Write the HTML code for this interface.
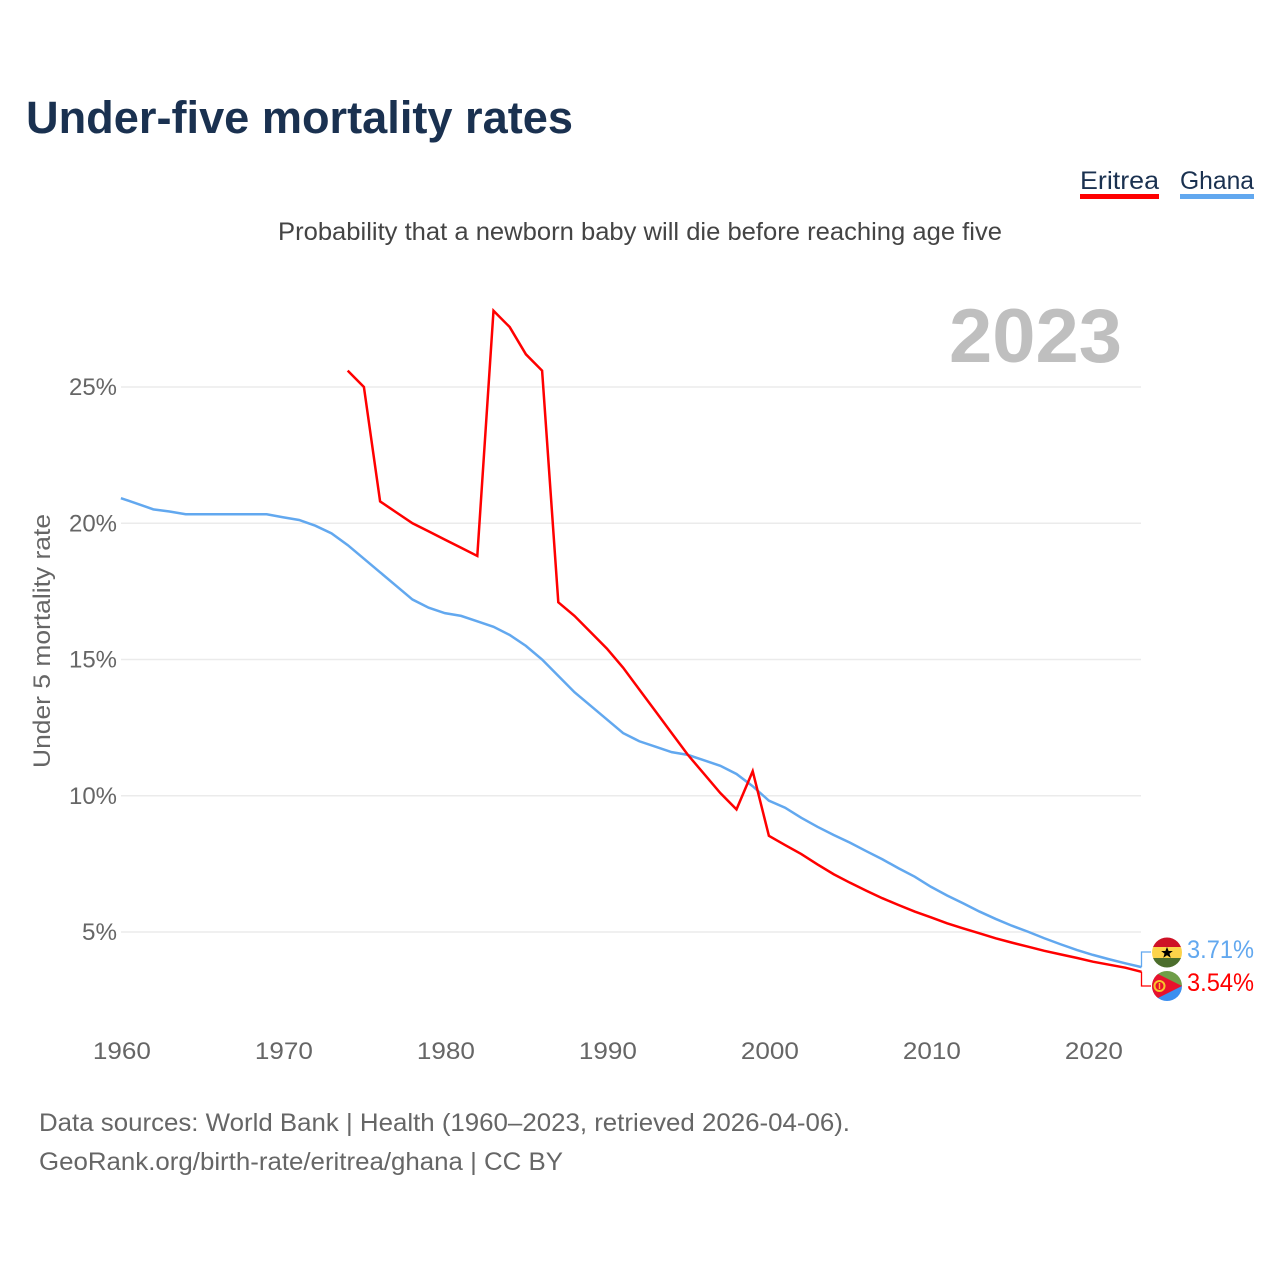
<!DOCTYPE html>
<html lang="en">
<head>
<meta charset="utf-8">
<title>Under-five mortality rates</title>
<style>
html,body{margin:0;padding:0;background:#fff;width:1280px;height:1280px;overflow:hidden}
svg{display:block}
text{font-family:"Liberation Sans",sans-serif}
</style>
</head>
<body>
<svg id="chart" xmlns="http://www.w3.org/2000/svg" width="1280" height="1280" viewBox="0 0 1280 1280">
  <defs>
    <clipPath id="ghana-clip"><circle cx="1167" cy="952.5" r="15"/></clipPath>
    <clipPath id="eritrea-clip"><circle cx="1167" cy="986" r="15"/></clipPath>
  </defs>
  <rect x="0" y="0" width="1280" height="1280" fill="#ffffff"/>
  <text x="26" y="133" font-size="45" font-weight="700" fill="#1a3150" textLength="547" lengthAdjust="spacingAndGlyphs">Under-five mortality rates</text>
  <text x="1080" y="189" font-size="25" fill="#1a3150" textLength="79" lengthAdjust="spacingAndGlyphs">Eritrea</text>
  <rect x="1080" y="194" width="79" height="5" fill="#ff0000"/>
  <text x="1180" y="189" font-size="25" fill="#1a3150" textLength="74" lengthAdjust="spacingAndGlyphs">Ghana</text>
  <rect x="1180" y="194" width="74" height="5" fill="#62a8ef"/>
  <text x="278" y="240" font-size="25" fill="#444444" textLength="724" lengthAdjust="spacingAndGlyphs">Probability that a newborn baby will die before reaching age five</text>
  <text x="949" y="362" font-size="76" font-weight="700" fill="#bfbfbf" textLength="173" lengthAdjust="spacingAndGlyphs">2023</text>
  <g id="grid"></g>
  <g id="y-ticks"></g>
  <g id="x-ticks"></g>
  <text transform="translate(50,641) rotate(-90)" text-anchor="middle" font-size="24" fill="#666666" textLength="254" lengthAdjust="spacingAndGlyphs">Under 5 mortality rate</text>
  <g id="series"></g>
  <g id="connectors"></g>
  <g clip-path="url(#ghana-clip)">
    <rect x="1152" y="937" width="30" height="10.5" fill="#ce1126"/>
    <rect x="1152" y="947" width="30" height="11" fill="#fcd34a"/>
    <rect x="1152" y="958" width="30" height="11" fill="#4c6e2c"/>
    <polygon points="1167,947 1168.6,951 1172.8,951 1169.5,953.6 1170.7,957.8 1167,955.3 1163.3,957.8 1164.5,953.6 1161.2,951 1165.4,951" fill="#000000"/>
  </g>
  <g clip-path="url(#eritrea-clip)">
    <rect x="1152" y="971" width="30" height="15" fill="#6f9e48"/>
    <rect x="1152" y="986" width="30" height="15" fill="#3b8ff0"/>
    <polygon points="1152,971 1182,986 1152,1001" fill="#e8112d"/>
    <circle cx="1159.5" cy="986" r="5" fill="none" stroke="#f7c52b" stroke-width="2"/>
    <rect x="1158.8" y="983" width="1.4" height="6" fill="#f7c52b"/>
  </g>
  <text x="1187" y="958" font-size="25" fill="#62a8ef" textLength="67" lengthAdjust="spacingAndGlyphs">3.71%</text>
  <text x="1187" y="991" font-size="25" fill="#ff0000" textLength="67" lengthAdjust="spacingAndGlyphs">3.54%</text>
  <text x="39" y="1131" font-size="25" fill="#666666" textLength="811" lengthAdjust="spacingAndGlyphs">Data sources: World Bank | Health (1960–2023, retrieved 2026-04-06).</text>
  <a><text x="39" y="1170" font-size="25" fill="#666666" textLength="524" lengthAdjust="spacingAndGlyphs">GeoRank.org/birth-rate/eritrea/ghana | CC BY</text></a>
</svg>
<script>
const yTickValues = [5, 10, 15, 20, 25];
const yTickLabels = ["5%", "10%", "15%", "20%", "25%"];
const xTickYears = [1960, 1970, 1980, 1990, 2000, 2010, 2020];
const ghanaStartYear = 1960;
const ghanaValues = [20.92, 20.72, 20.51, 20.43, 20.33, 20.33, 20.33, 20.33, 20.33, 20.33, 20.22, 20.12, 19.91, 19.63, 19.2, 18.7, 18.2, 17.7, 17.2, 16.9, 16.7, 16.6, 16.4, 16.2, 15.9, 15.5, 15.0, 14.4, 13.8, 13.3, 12.8, 12.3, 12.0, 11.8, 11.6, 11.5, 11.3, 11.1, 10.8, 10.35, 9.82, 9.56, 9.19, 8.86, 8.56, 8.28, 7.97, 7.67, 7.34, 7.03, 6.66, 6.34, 6.05, 5.75, 5.48, 5.23, 5.01, 4.77, 4.55, 4.34, 4.16, 4.0, 3.85, 3.71];
const eritreaStartYear = 1974;
const eritreaValues = [25.6, 25.0, 20.8, 20.4, 20.0, 19.7, 19.4, 19.1, 18.8, 27.8, 27.2, 26.2, 25.6, 17.1, 16.6, 16.0, 15.4, 14.7, 13.9, 13.1, 12.3, 11.5, 10.8, 10.1, 9.5, 10.9, 8.53, 8.19, 7.86, 7.48, 7.12, 6.81, 6.52, 6.24, 5.99, 5.75, 5.54, 5.32, 5.13, 4.95, 4.77, 4.61, 4.46, 4.31, 4.18, 4.05, 3.91, 3.80, 3.69, 3.54];

const SVG_NS = "http://www.w3.org/2000/svg";
function xScale(year) { return 120.9 + (year - 1960) * 16.2; }
function yScale(value) { return 932 - (value - 5) * 27.25; }

const gridGroup = document.getElementById("grid");
const yTickGroup = document.getElementById("y-ticks");
const xTickGroup = document.getElementById("x-ticks");
const seriesGroup = document.getElementById("series");
const connectorGroup = document.getElementById("connectors");

yTickValues.forEach(function (v, i) {
  const line = document.createElementNS(SVG_NS, "line");
  
  
  line.setAttribute("x1", 121);
  line.setAttribute("x2", 1141);
  line.setAttribute("y1", yScale(v));
  line.setAttribute("y2", yScale(v));
  line.setAttribute("stroke", "#ebebeb");
  line.setAttribute("stroke-width", 1.5);
  gridGroup.appendChild(line);

  const label = document.createElementNS(SVG_NS, "text");
  
  
  label.setAttribute("x", 117);
  label.setAttribute("y", yScale(v) + 8);
  label.setAttribute("text-anchor", "end");
  label.setAttribute("font-size", 24);
  label.setAttribute("fill", "#666666");
  label.setAttribute("textLength", yTickLabels[i].length === 2 ? 35 : 48);
  label.setAttribute("lengthAdjust", "spacingAndGlyphs");
  label.textContent = yTickLabels[i];
  yTickGroup.appendChild(label);
});

xTickYears.forEach(function (year) {
  const label = document.createElementNS(SVG_NS, "text");
  
  
  label.setAttribute("x", xScale(year) + 1);
  label.setAttribute("y", 1059);
  label.setAttribute("text-anchor", "middle");
  label.setAttribute("font-size", 24);
  label.setAttribute("fill", "#666666");
  label.setAttribute("textLength", 58);
  label.setAttribute("lengthAdjust", "spacingAndGlyphs");
  label.textContent = String(year);
  xTickGroup.appendChild(label);
});

function pointsFor(values, startYear) {
  return values.map(function (v, i) {
    return xScale(startYear + i).toFixed(2) + "," + yScale(v).toFixed(2);
  }).join(" ");
}

const ghanaLine = document.createElementNS(SVG_NS, "polyline");


ghanaLine.setAttribute("points", pointsFor(ghanaValues, ghanaStartYear));
ghanaLine.setAttribute("fill", "none");
ghanaLine.setAttribute("stroke", "#62a8ef");
ghanaLine.setAttribute("stroke-width", 2.5);
seriesGroup.appendChild(ghanaLine);

const eritreaLine = document.createElementNS(SVG_NS, "polyline");


eritreaLine.setAttribute("points", pointsFor(eritreaValues, eritreaStartYear));
eritreaLine.setAttribute("fill", "none");
eritreaLine.setAttribute("stroke", "#ff0000");
eritreaLine.setAttribute("stroke-width", 2.5);
seriesGroup.appendChild(eritreaLine);

const ghanaEndY = yScale(ghanaValues[ghanaValues.length - 1]);
const eritreaEndY = yScale(eritreaValues[eritreaValues.length - 1]);

const ghanaConnector = document.createElementNS(SVG_NS, "polyline");


ghanaConnector.setAttribute("points", "1141.5," + ghanaEndY + " 1141.5,952 1151,952");
ghanaConnector.setAttribute("fill", "none");
ghanaConnector.setAttribute("stroke", "#62a8ef");
ghanaConnector.setAttribute("stroke-width", 1.3);
connectorGroup.appendChild(ghanaConnector);

const eritreaConnector = document.createElementNS(SVG_NS, "polyline");


eritreaConnector.setAttribute("points", "1141.5," + eritreaEndY + " 1141.5,986 1151,986");
eritreaConnector.setAttribute("fill", "none");
eritreaConnector.setAttribute("stroke", "#ff0000");
eritreaConnector.setAttribute("stroke-width", 1.3);
connectorGroup.appendChild(eritreaConnector);
</script>
</body>
</html>
